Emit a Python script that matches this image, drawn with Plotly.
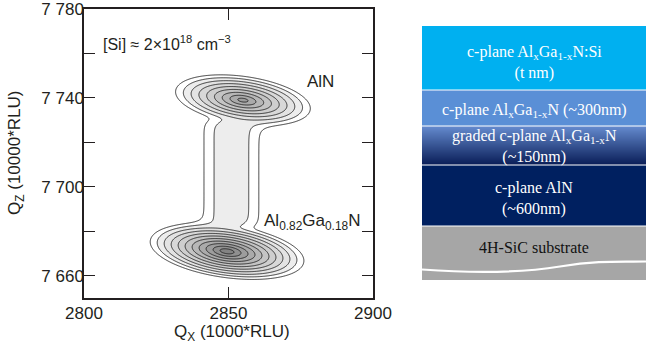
import numpy as np
import plotly.graph_objects as go

# ---------------- data ----------------
peak_names = ["AlN", "Al0.82Ga0.18N"]
peak_qx = [2855.0, 2849.5]            # 1000*RLU
peak_qz = [7739.0, 7671.0]            # 10000*RLU
peak_halfwidth_qx = [26.0, 29.0]
peak_halfwidth_qz = [12.0, 13.0]
peak_tilt = [0.16, 0.16]              # dQz/dQx of the long axis (negative slope)
peak_log_intensity = [2.9, 3.6]

streak_qx = 2851.0
streak_halfwidth_qx = 12.0
streak_qz_range = [7679.0, 7733.0]
streak_log_intensity = 0.8

qx_range = [2800, 2900]
qz_range = [7650, 7780]
qx_ticks = [2800, 2850, 2900]
qx_ticktext = ["2800", "2850", "2900"]
qz_ticks = [7660, 7680, 7700, 7720, 7740, 7760, 7780]
qz_ticktext = ["7 660", "", "7 700", "", "7 740", "", "7 780"]

contour_start, contour_end, contour_step = 0.3, 3.6, 0.3

layer_labels = [
    "c-plane Al<sub>x</sub>Ga<sub>1-x</sub>N:Si<br>(t nm)",
    "c-plane Al<sub>x</sub>Ga<sub>1-x</sub>N (~300nm)",
    "graded c-plane Al<sub>x</sub>Ga<sub>1-x</sub>N<br>(~150nm)",
    "c-plane AlN<br>(~600nm)",
    "4H-SiC substrate",
]
layer_colors = ["#00B0F0", "#5A8FD6", None, "#002060", "#A6A6A6"]
layer_text_colors = ["white", "white", "white", "white", "#111111"]
graded_top_rgb = (100, 138, 206)
graded_bottom_rgb = (10, 30, 88)

# ---------------- intensity map (log10 scale) ----------------
qx = np.linspace(qx_range[0], qx_range[1], 401)
qz = np.linspace(qz_range[0], qz_range[1], 521)
QX, QZ = np.meshgrid(qx, qz)
lin = np.zeros_like(QX)
for cx, cz, ax, az, s, h in zip(peak_qx, peak_qz, peak_halfwidth_qx,
                                peak_halfwidth_qz, peak_tilt, peak_log_intensity):
    dx = QX - cx
    v = (QZ - cz) + s * dx
    r = np.sqrt((dx / ax) ** 2 + (v / az) ** 2)
    lin += 10 ** (h * (1 - r))
win = 1 / (1 + np.exp(-(QZ - streak_qz_range[0]) / 1.5)) / (1 + np.exp((QZ - streak_qz_range[1]) / 1.5))
zs = streak_log_intensity * (1 - ((QX - streak_qx) / streak_halfwidth_qx) ** 2)
zs = zs * win + (win - 1) * 3
lin += 10 ** zs
Z = np.log10(lin)

fig = go.Figure()
fig.add_trace(go.Contour(
    x=qx, y=qz, z=Z,
    autocontour=False,
    contours=dict(start=contour_start, end=contour_end, size=contour_step, coloring="fill"),
    zmin=0, zmax=3.6,
    colorscale=[[0, "#ffffff"], [0.07, "#ffffff"], [0.09, "#f2f2f2"],
                [0.5, "#c4c4c4"], [1, "#7c7c7c"]],
    line=dict(color="#222222", width=0.9),
    showscale=False, hoverinfo="skip",
    xaxis="x", yaxis="y",
))

# ---------------- layout ----------------
L, R, T, B = 84, 0, 9, 58
W, H = 648, 356
pw, ph = W - L - R, H - T - B

def px2paper_x(p):
    return (p - L) / pw

def py2paper_y(p):
    return (H - B - p) / ph

axis_font = dict(family="Liberation Sans, Arial, sans-serif", size=17, color="#231f20")
fig.update_layout(
    width=W, height=H,
    margin=dict(l=L, r=R, t=T, b=B, autoexpand=False),
    paper_bgcolor="white", plot_bgcolor="white",
    showlegend=False,
    xaxis=dict(domain=[0, px2paper_x(373)], range=qx_range, tickvals=qx_ticks,
               ticktext=qx_ticktext, ticks="inside", ticklen=11, tickwidth=1.2,
               tickcolor="#231f20", showline=True, linecolor="#231f20", linewidth=1.5,
               mirror="allticks", showgrid=False, zeroline=False, tickfont=axis_font,
               automargin=False, ticklabeloverflow="allow", ticklabelstandoff=-1),
    yaxis=dict(domain=[0, 1], range=qz_range, tickvals=qz_ticks, ticktext=qz_ticktext,
               ticks="inside", ticklen=11, tickwidth=1.2, tickcolor="#231f20",
               showline=True, linecolor="#231f20", linewidth=1.5, mirror="allticks",
               showgrid=False, zeroline=False, tickfont=axis_font, automargin=False,
               ticklabelstandoff=-5, ticklabeloverflow="allow"),
    xaxis2=dict(domain=[px2paper_x(422), px2paper_x(646)], range=[422, 646],
                visible=False, anchor="y2", fixedrange=True, automargin=False),
    yaxis2=dict(domain=[py2paper_y(280), py2paper_y(26)], range=[280, 26],
                visible=False, anchor="x2", fixedrange=True, automargin=False),
)

# axis titles
fig.add_annotation(text="Q<sub>X</sub> (1000*RLU)", xref="paper", yref="paper",
                   x=px2paper_x(232), y=py2paper_y(333), xanchor="center", yanchor="middle",
                   showarrow=False, font=axis_font)
fig.add_annotation(text="Q<sub>Z</sub> (10000*RLU)", xref="paper", yref="paper",
                   x=px2paper_x(16), y=py2paper_y(153), xanchor="center", yanchor="middle",
                   textangle=-90, showarrow=False, font=axis_font)

# in-plot labels
fig.add_annotation(text="[Si] ≈ 2×10<sup>18</sup> cm<sup>−3</sup>", xref="x", yref="y",
                   x=2806.0, y=7764.5, xanchor="left", yanchor="middle", showarrow=False,
                   font=dict(family="Liberation Sans, Arial, sans-serif", size=16, color="#231f20"))
fig.add_annotation(text=peak_names[0], xref="x", yref="y", x=2876.5, y=7747.5,
                   xanchor="left", yanchor="middle", showarrow=False, font=axis_font)
fig.add_annotation(text="Al<sub>0.82</sub>Ga<sub>0.18</sub>N", xref="x", yref="y",
                   x=2861.5, y=7684.0, xanchor="left", yanchor="middle", showarrow=False,
                   font=axis_font)

# ---------------- layer stack ----------------
layer_bounds = [26, 90, 126, 165, 226, 280]
layer_text_y = [62, 110, 146, 198, 247]
shapes = []
for i, col in enumerate(layer_colors):
    y0, y1 = layer_bounds[i], layer_bounds[i + 1]
    if col is not None:
        shapes.append(dict(type="rect", xref="x2", yref="y2", x0=422, x1=646, y0=y0, y1=y1,
                           fillcolor=col, line=dict(width=0), layer="below"))
    else:
        n = y1 - y0
        for k in range(n):
            t = k / max(n - 1, 1)
            rgb = [round(a + (b - a) * t) for a, b in zip(graded_top_rgb, graded_bottom_rgb)]
            shapes.append(dict(type="rect", xref="x2", yref="y2", x0=422, x1=646,
                               y0=y0 + k, y1=y0 + k + 1.05,
                               fillcolor="rgb(%d,%d,%d)" % tuple(rgb), line=dict(width=0),
                               layer="below"))
for yb in layer_bounds[1:-1]:
    shapes.append(dict(type="line", xref="x2", yref="y2", x0=422, x1=646, y0=yb, y1=yb,
                       line=dict(color="white", width=1)))
# wavy break in substrate
shapes.append(dict(type="path", xref="x2", yref="y2",
                   path="M 422 269.5 C 470 273, 520 273, 560 266.5 S 620 262, 646 261.5",
                   line=dict(color="white", width=2.2)))
fig.update_layout(shapes=shapes)

for lab, ty, tc in zip(layer_labels, layer_text_y, layer_text_colors):
    fig.add_annotation(text=lab, xref="x2", yref="y2", x=534, y=ty, xanchor="center",
                       yanchor="middle", showarrow=False,
                       font=dict(family="Liberation Serif, Times New Roman, serif", size=16, color=tc))

fig.write_html("out.html", config={"displayModeBar": False},
               post_script="document.body.style.margin='0';document.body.style.padding='0';")
